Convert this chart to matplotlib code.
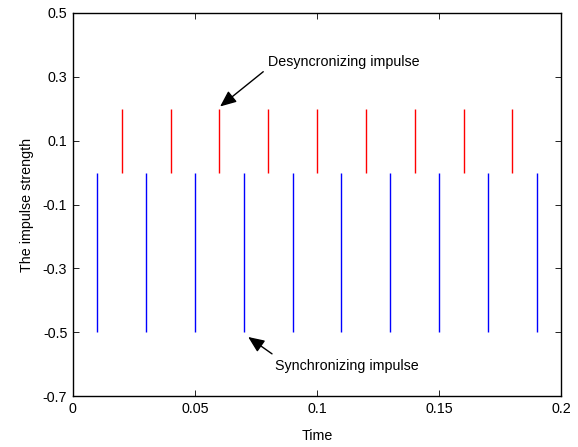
import numpy as np
import matplotlib.pyplot as plt

plt.rcParams['font.family'] = ['Liberation Sans', 'DejaVu Sans']
plt.rcParams['font.size'] = 10.3

# impulse times and strengths
desync_t = [0.02, 0.04, 0.06, 0.08, 0.10, 0.12, 0.14, 0.16, 0.18]
desync_amp = 0.2
sync_t = [0.01, 0.03, 0.05, 0.07, 0.09, 0.11, 0.13, 0.15, 0.17, 0.19]
sync_amp = -0.5

xticks = [0, 0.05, 0.1, 0.15, 0.2]
xticklabels = ['0', '0.05', '0.1', '0.15', '0.2']
yticks = [0.5, 0.3, 0.1, -0.1, -0.3, -0.5, -0.7]
yticklabels = ['0.5', '0.3', '0.1', '-0.1', '-0.3', '-0.5', '-0.7']

fig = plt.figure(figsize=(5.78, 4.47), dpi=100)
ax = fig.add_axes([0.126, 0.114, 0.845, 0.857])

ax.vlines(desync_t, 0, desync_amp, colors='red', linewidth=1.0)
ax.vlines(sync_t, sync_amp, 0, colors='blue', linewidth=1.0)

ax.set_xlim(0, 0.2)
ax.set_ylim(-0.7, 0.5)
ax.set_xticks(xticks)
ax.set_xticklabels(xticklabels)
ax.set_yticks(yticks)
ax.set_yticklabels(yticklabels)
ax.tick_params(direction='in', top=True, right=True, length=4, width=0.6, pad=4)
for s in ax.spines.values():
    s.set_linewidth(1.0)

ax.set_xlabel('Time', labelpad=10)
ax.set_ylabel('The impulse strength', labelpad=6)

head = '-|>,head_length=0.7,head_width=0.3'
ax.annotate('Desyncronizing impulse', xy=(0.0603, 0.207), xytext=(0.0800, 0.346),
            va='center', ha='left',
            arrowprops=dict(arrowstyle=head, color='k', lw=1.0, mutation_scale=14,
                            relpos=(0.0, 0.1), shrinkA=2, shrinkB=0))
ax.annotate('Synchronizing impulse', xy=(0.0718, -0.515), xytext=(0.0828, -0.606),
            va='center', ha='left',
            arrowprops=dict(arrowstyle=head, color='k', lw=1.0, mutation_scale=14,
                            relpos=(0.03, 1.0), shrinkA=3, shrinkB=0))

fig.savefig('out.png', dpi=100)
